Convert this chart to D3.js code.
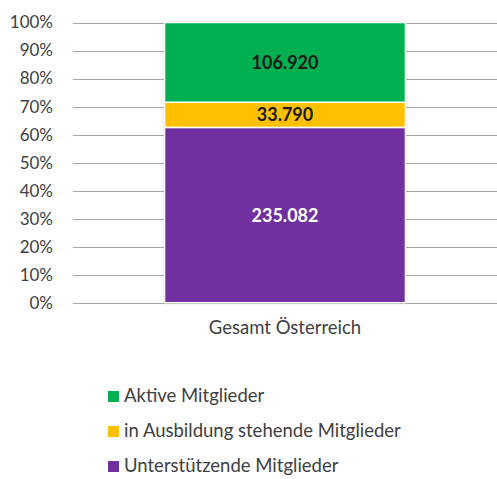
<!DOCTYPE html>
<html><head><meta charset="utf-8">
<script src="https://cdn.jsdelivr.net/npm/d3@7/dist/d3.min.js"></script>
<style>body{margin:0;background:#fff}svg{display:block}</style>
</head><body>
<svg id="c" width="497" height="479"></svg>
<script>
const categories = ["Gesamt Österreich"];
const seriesNames = ["Unterstützende Mitglieder", "in Ausbildung stehende Mitglieder", "Aktive Mitglieder"];
const seriesValues = [[235082], [33790], [106920]];
const valueLabels = ["235.082", "33.790", "106.920"];
const colors = ["#7030A0", "#FFC000", "#00B050"];
const labelColors = ["#ffffff", "#1a1a1a", "#1a1a1a"];
const tickValues = [0, 0.1, 0.2, 0.3, 0.4, 0.5, 0.6, 0.7, 0.8, 0.9, 1];
const legendOrder = [2, 1, 0];

const svg = d3.select("#c");
const font = "Lato, 'Open Sans', sans-serif";
const m = {left: 73, right: 0, top: 22.5, bottom: 176.3};
const W = 497, H = 479;
const x = d3.scaleBand().domain(categories).range([m.left, W - m.right]).paddingInner(0).paddingOuter(0.38);
const y = d3.scaleLinear().domain([0, 1]).range([H - m.bottom, m.top]);

const defs = svg.append("defs");
const f = defs.append("filter").attr("id", "sh").attr("x", "-10%").attr("y", "-10%").attr("width", "120%").attr("height", "120%");
f.append("feDropShadow").attr("dx", 0).attr("dy", 0).attr("stdDeviation", 1.5).attr("flood-color", "#000").attr("flood-opacity", 0.25);

// gridlines
svg.append("g").selectAll("line").data(tickValues).join("line")
  .attr("x1", m.left).attr("x2", W - m.right)
  .attr("y1", d => Math.round(y(d)) + 0.5).attr("y2", d => Math.round(y(d)) + 0.5)
  .attr("stroke", "#a6a6a6").attr("stroke-width", 1);

// y axis labels
const yAxis = d3.axisLeft(y).tickValues(tickValues).tickFormat(d3.format(".0%")).tickSize(0).tickPadding(20);
const ga = svg.append("g").attr("transform", `translate(${m.left},0)`).call(yAxis);
ga.select(".domain").remove();
ga.selectAll("text").attr("font-family", font).attr("font-size", 17).attr("fill", "#404040");

// stacks
const totals = categories.map((c, i) => d3.sum(seriesValues, s => s[i]));
const stackData = categories.map((c, i) => {
  const o = {cat: c};
  seriesNames.forEach((n, j) => o[n] = seriesValues[j][i] / totals[i]);
  return o;
});
const stacked = d3.stack().keys(seriesNames)(stackData);

const gBars = svg.append("g");
gBars.append("g").attr("filter", "url(#sh)").selectAll("rect").data(categories).join("rect")
  .attr("x", d => x(d)).attr("width", x.bandwidth())
  .attr("y", y(1)).attr("height", y(0) - y(1)).attr("fill", "#fff");

stacked.forEach((s, j) => {
  gBars.selectAll(null).data(s).join("rect")
    .attr("x", d => x(d.data.cat)).attr("width", x.bandwidth())
    .attr("y", d => y(d[1])).attr("height", d => y(d[0]) - y(d[1]))
    .attr("fill", colors[j]).attr("stroke", "#fff").attr("stroke-width", 1.5);
  gBars.selectAll(null).data(s).join("text")
    .attr("x", d => x(d.data.cat) + x.bandwidth() / 2)
    .attr("y", d => (y(d[0]) + y(d[1])) / 2)
    .attr("dy", "0.36em").attr("text-anchor", "middle")
    .attr("font-family", font).attr("font-weight", "bold").attr("font-size", 18)
    .attr("fill", labelColors[j]).text(valueLabels[j]);
});

// x axis label
const xAxis = d3.axisBottom(x).tickSize(0).tickPadding(0);
const gx = svg.append("g").attr("transform", `translate(0,${y(0)})`).call(xAxis);
gx.select(".domain").remove();
gx.selectAll("text").attr("font-family", font).attr("font-size", 18.5).attr("fill", "#404040")
  .attr("dy", null).attr("y", 31);

// legend
const lg = svg.append("g").selectAll("g").data(legendOrder).join("g")
  .attr("transform", (d, i) => `translate(108,${402 + i * 35})`);
lg.append("rect").attr("x", 0).attr("y", -11).attr("width", 11).attr("height", 11).attr("fill", d => colors[d]);
lg.append("text").attr("x", 16).attr("y", 0)
  .attr("font-family", font).attr("font-size", 18.5).attr("fill", "#404040").text(d => seriesNames[d]);
</script>
</body></html>
